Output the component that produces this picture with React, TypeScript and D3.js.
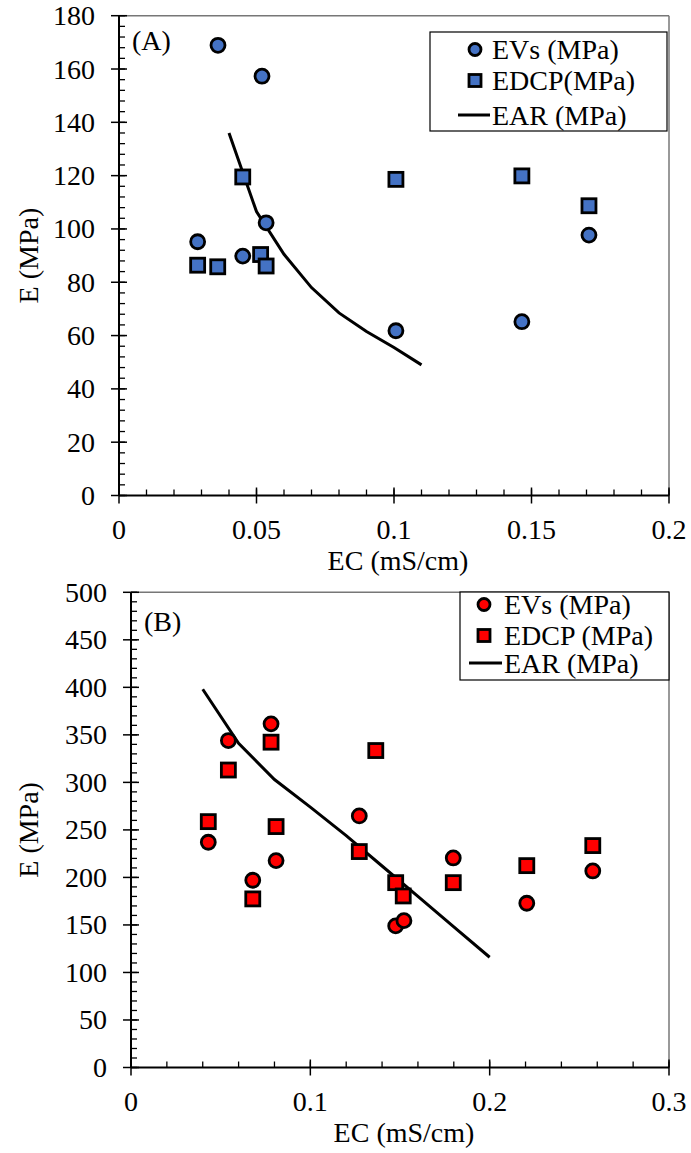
import React from 'react';
import * as d3 from 'd3';

// ---------- Panel A data ----------
const ecA_EVs = [0.0286, 0.036, 0.045, 0.052, 0.0535, 0.1007, 0.1465, 0.1709];
const evsA = [95.2, 168.9, 89.8, 157.3, 102.3, 61.8, 65.2, 97.7];
const ecA_EDCP = [0.0286, 0.0359, 0.045, 0.0515, 0.0535, 0.1007, 0.1465, 0.1709];
const edcpA = [86.4, 85.8, 119.5, 90.4, 86.1, 118.6, 119.9, 108.7];
const ecA_EAR = [0.04, 0.05, 0.06, 0.07, 0.08, 0.09, 0.1, 0.11];
const earA = [136, 106.5, 90.5, 78, 68.5, 61.5, 55.5, 49];
const xTicksA = [0, 0.05, 0.1, 0.15, 0.2];
const xTickLabelsA = ['0', '0.05', '0.1', '0.15', '0.2'];
const yTicksA = [0, 20, 40, 60, 80, 100, 120, 140, 160, 180];
const legendA = ['EVs (MPa)', 'EDCP(MPa)', 'EAR (MPa)'];

// ---------- Panel B data ----------
const ecB_EVs = [0.0431, 0.0543, 0.0679, 0.0781, 0.0809, 0.1273, 0.1476, 0.1522, 0.1797, 0.2207, 0.2575];
const evsB = [237, 344, 197, 361.6, 217.7, 264.7, 149, 154.5, 220.5, 172.8, 206.8];
const ecB_EDCP = [0.0431, 0.0543, 0.0679, 0.0781, 0.0809, 0.1273, 0.1365, 0.1476, 0.1518, 0.1797, 0.2207, 0.2575];
const edcpB = [258.7, 313, 177.4, 342.3, 253.5, 227.2, 333.5, 194.5, 180.5, 194.5, 212.4, 233.5];
const ecB_EAR = [0.04, 0.06, 0.08, 0.1, 0.12, 0.14, 0.16, 0.18, 0.2];
const earB = [398, 341, 303, 274, 244, 212, 180, 148, 116];
const xTicksB = [0, 0.1, 0.2, 0.3];
const xTickLabelsB = ['0', '0.1', '0.2', '0.3'];
const yTicksB = [0, 50, 100, 150, 200, 250, 300, 350, 400, 450, 500];
const legendB = ['EVs (MPa)', 'EDCP (MPa)', 'EAR (MPa)'];

const FONT = "'Liberation Serif', 'Times New Roman', serif";

type PanelProps = {
  left: number; right: number; top: number; bottom: number;
  xMax: number; yMax: number;
  xTicks: number[]; xLabels: string[]; xMinorStep: number;
  yTicks: number[]; yMinorStep: number;
  ecEVs: number[]; evs: number[]; ecEDCP: number[]; edcp: number[]; ecEAR: number[]; ear: number[];
  color: string; label: string; labelX: number; labelY: number;
  legend: string[]; legendBox: [number, number, number, number];
  legendMarkerX: number; legendTextX: number; legendYs: number[]; legendLine: [number, number];
};

function Panel(p: PanelProps) {
  const x = d3.scaleLinear().domain([0, p.xMax]).range([p.left, p.right]);
  const y = d3.scaleLinear().domain([0, p.yMax]).range([p.bottom, p.top]);
  const xMinor = d3.range(0, p.xMax + 1e-9, p.xMinorStep);
  const yMinor = d3.range(0, p.yMax + 1e-9, p.yMinorStep);
  const line = d3.line<number>().x((d, i) => x(p.ecEAR[i])).y((d) => y(d));
  const r = 7;
  const s = 14;
  const [lx0, ly0, lx1, ly1] = p.legendBox;
  return (
    <g fontFamily={FONT} fill="#000">
      {/* frame top/right */}
      <line x1={p.left} x2={p.right} y1={p.top} y2={p.top} stroke="#777" strokeWidth={1.5} />
      <line x1={p.right} x2={p.right} y1={p.top} y2={p.bottom} stroke="#777" strokeWidth={1.5} />
      {/* minor ticks */}
      {xMinor.map((v, i) => (
        <line key={'xm' + i} x1={x(v)} x2={x(v)} y1={p.bottom} y2={p.bottom - 6} stroke="#000" strokeWidth={1.3} />
      ))}
      {yMinor.map((v, i) => (
        <line key={'ym' + i} x1={p.left} x2={p.left + 6} y1={y(v)} y2={y(v)} stroke="#000" strokeWidth={1.3} />
      ))}
      {/* major ticks */}
      {p.xTicks.map((v, i) => (
        <g key={'xt' + i}>
          <line x1={x(v)} x2={x(v)} y1={p.bottom - 8} y2={p.bottom + 8} stroke="#000" strokeWidth={1.5} />
          <text x={x(v)} y={p.bottom + 43} fontSize={28} textAnchor="middle">{p.xLabels[i]}</text>
        </g>
      ))}
      {p.yTicks.map((v, i) => (
        <g key={'yt' + i}>
          <line x1={p.left - 8} x2={p.left + 8} y1={y(v)} y2={y(v)} stroke="#000" strokeWidth={1.5} />
          <text x={p.left - 24} y={y(v) + 9.5} fontSize={28} textAnchor="end">{String(v)}</text>
        </g>
      ))}
      {/* axes */}
      <line x1={p.left} x2={p.right} y1={p.bottom} y2={p.bottom} stroke="#000" strokeWidth={2} />
      <line x1={p.left} x2={p.left} y1={p.top} y2={p.bottom} stroke="#000" strokeWidth={2} />
      {/* titles */}
      <text x={(p.left + p.right) / 2 + 4} y={p.bottom + 74} fontSize={28} textAnchor="middle">EC (mS/cm)</text>
      <text transform={`translate(38,${(p.top + p.bottom) / 2}) rotate(-90)`} fontSize={28} textAnchor="middle">E (MPa)</text>
      <text x={p.labelX} y={p.labelY} fontSize={28}>{p.label}</text>
      {/* EAR line */}
      <path d={line(p.ear) || ''} fill="none" stroke="#000" strokeWidth={3} />
      {/* EDCP squares */}
      {p.edcp.map((v, i) => (
        <rect key={'sq' + i} x={x(p.ecEDCP[i]) - s / 2} y={y(v) - s / 2} width={s} height={s}
          fill={p.color} stroke="#000" strokeWidth={2.8} />
      ))}
      {/* EVs circles */}
      {p.evs.map((v, i) => (
        <circle key={'c' + i} cx={x(p.ecEVs[i])} cy={y(v)} r={r} fill={p.color} stroke="#000" strokeWidth={2.8} />
      ))}
      {/* legend */}
      <rect x={lx0} y={ly0} width={lx1 - lx0} height={ly1 - ly0} fill="#fff" stroke="#000" strokeWidth={1.2} />
      <circle cx={p.legendMarkerX} cy={p.legendYs[0] - 9.5} r={6} fill={p.color} stroke="#000" strokeWidth={2.8} />
      <rect x={p.legendMarkerX - 6} y={p.legendYs[1] - 9.5 - 6} width={12} height={12} fill={p.color} stroke="#000" strokeWidth={2.8} />
      <line x1={p.legendLine[0]} x2={p.legendLine[1]} y1={p.legendYs[2] - 10} y2={p.legendYs[2] - 10} stroke="#000" strokeWidth={3} />
      {p.legend.map((t, i) => (
        <text key={'lg' + i} x={p.legendTextX} y={p.legendYs[i]} fontSize={28}>{t}</text>
      ))}
    </g>
  );
}

export default function App() {
  return (
    <div style={{ position: 'absolute', left: 0, top: 0 }}>
      <svg width={691} height={1153} viewBox="0 0 691 1153" style={{ display: 'block', background: '#fff' }}>
        <rect x={0} y={0} width={691} height={1153} fill="#fff" />
        <Panel left={119} right={669} top={15.7} bottom={495.5} xMax={0.2} yMax={180}
          xTicks={xTicksA} xLabels={xTickLabelsA} xMinorStep={0.01}
          yTicks={yTicksA} yMinorStep={4}
          ecEVs={ecA_EVs} evs={evsA} ecEDCP={ecA_EDCP} edcp={edcpA} ecEAR={ecA_EAR} ear={earA}
          color="#4472C4" label="(A)" labelX={132} labelY={50}
          legend={legendA} legendBox={[430, 32, 667, 131]}
          legendMarkerX={475} legendTextX={492} legendYs={[59, 90, 125]} legendLine={[458, 490]} />
        <Panel left={131} right={669} top={592.3} bottom={1067.5} xMax={0.3} yMax={500}
          xTicks={xTicksB} xLabels={xTickLabelsB} xMinorStep={0.02}
          yTicks={yTicksB} yMinorStep={10}
          ecEVs={ecB_EVs} evs={evsB} ecEDCP={ecB_EDCP} edcp={edcpB} ecEAR={ecB_EAR} ear={earB}
          color="#FF0000" label="(B)" labelX={144} labelY={631}
          legend={legendB} legendBox={[460, 592, 669, 680]}
          legendMarkerX={484} legendTextX={504} legendYs={[614, 645, 673]} legendLine={[469, 502]} />
      </svg>
    </div>
  );
}
